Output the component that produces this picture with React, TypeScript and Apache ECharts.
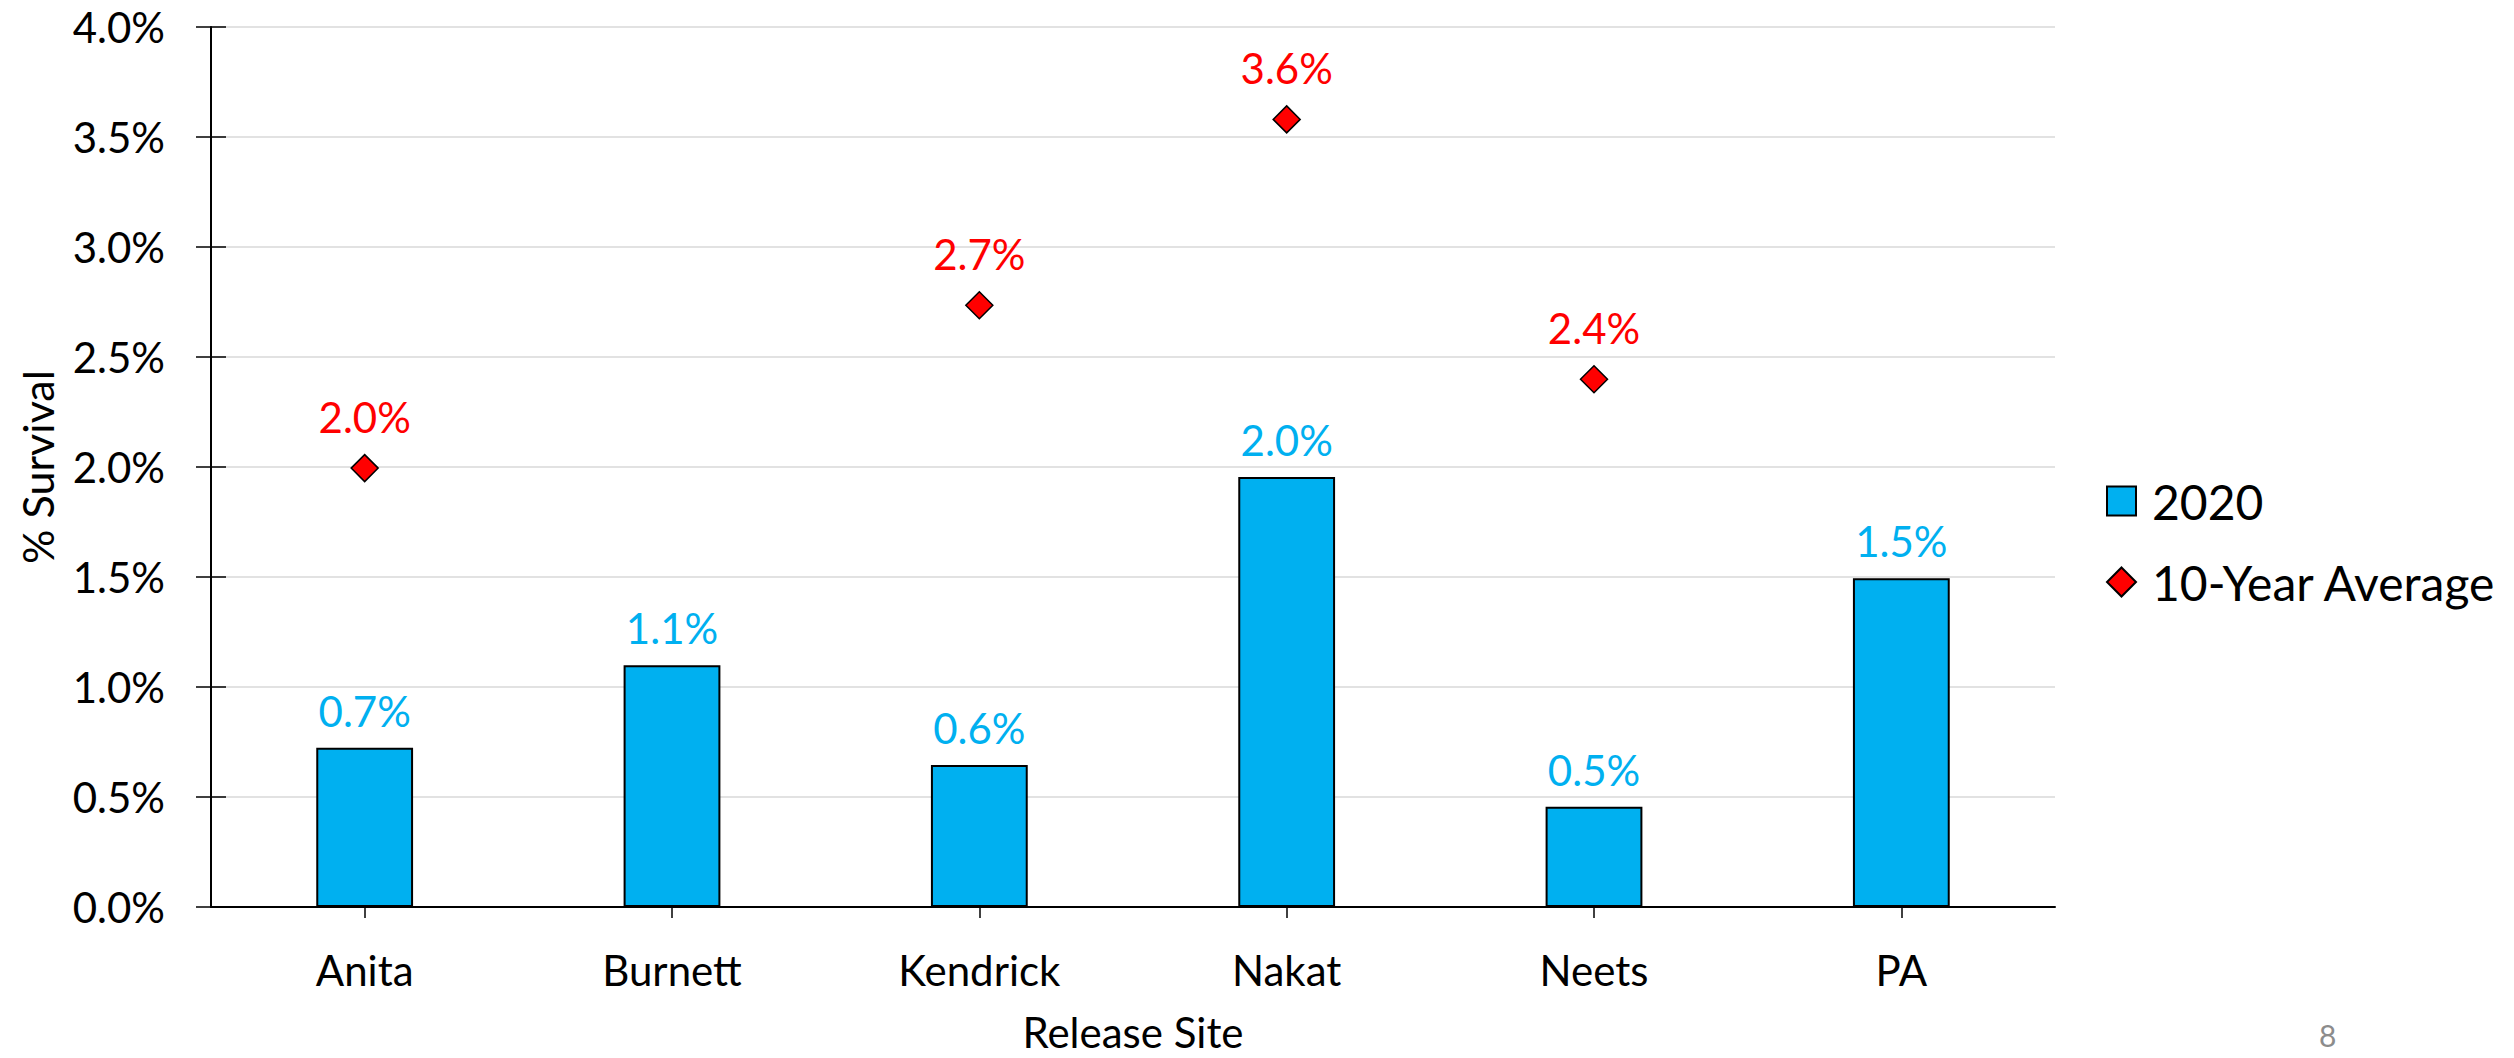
import React, { useEffect, useRef } from 'react';
import * as echarts from 'echarts';

const categories = ['Anita', 'Burnett', 'Kendrick', 'Nakat', 'Neets', 'PA'];
const survival2020 = [0.724, 1.099, 0.645, 1.955, 0.456, 1.494];
const tenYearAverage = [1.995, null, 2.735, 3.58, 2.399, null];
const yMin = 0;
const yMax = 4;
const yInterval = 0.5;
const seriesNames = ['2020', '10-Year Average'];
const axisTitles = { x: 'Release Site', y: '% Survival' };
const pageNumber = '8';

const FONT = 'Lato';
const fmt = (v: number) => (Math.round(v * 10) / 10).toFixed(1) + '%';

export default function App() {
  const ref = useRef<HTMLDivElement>(null);
  useEffect(() => {
    if (!ref.current) return;
    const chart = echarts.init(ref.current, null, { renderer: 'svg' });
    const yBase = {
      type: 'value',
      min: yMin,
      max: yMax,
      interval: yInterval,
      position: 'left',
    };
    chart.setOption({
      animation: false,
      backgroundColor: '#ffffff',
      textStyle: { fontFamily: FONT },
      grid: { left: 211, right: 459, top: 27, bottom: 147, containLabel: false },
      legend: {
        orient: 'vertical',
        left: 2106,
        top: 477,
        padding: 0,
        itemWidth: 29,
        itemHeight: 29,
        itemGap: 33,
        textStyle: { fontFamily: FONT, fontSize: 48, color: '#000', padding: [0, 0, 0, 11] },
        data: [
          { name: seriesNames[0], icon: 'rect' },
          { name: seriesNames[1], icon: 'diamond' },
        ],
      },
      xAxis: [
        {
          type: 'category',
          data: categories,
          position: 'bottom',
          boundaryGap: true,
          axisLine: { lineStyle: { color: '#000', width: 2 } },
          axisTick: { show: true, alignWithLabel: true, length: 11, lineStyle: { color: '#000', width: 1.5 } },
          axisLabel: { color: '#000', fontSize: 42, margin: 42, fontFamily: FONT },
          splitLine: { show: false },
          name: axisTitles.x,
          nameLocation: 'middle',
          nameGap: 104,
          nameTextStyle: { color: '#000', fontSize: 42, fontFamily: FONT },
        },
        {
          type: 'category',
          data: categories,
          position: 'bottom',
          boundaryGap: true,
          axisLine: { show: false },
          axisTick: { show: true, inside: true, alignWithLabel: true, length: 11, lineStyle: { color: '#000', width: 1.5 } },
          axisLabel: { show: false },
          splitLine: { show: false },
        },
      ],
      yAxis: [
        {
          ...yBase,
          axisLine: { show: true, lineStyle: { color: '#000', width: 2 } },
          axisTick: { show: true, length: 15, lineStyle: { color: '#000', width: 1.5 } },
          axisLabel: { color: '#000', fontSize: 42, margin: 46, fontFamily: FONT, formatter: (v: number) => v.toFixed(1) + '%' },
          splitLine: { show: true, lineStyle: { color: '#d9d9d9', width: 1.5 } },
          name: axisTitles.y,
          nameLocation: 'middle',
          nameGap: 152,
          nameRotate: 90,
          nameTextStyle: { color: '#000', fontSize: 43, fontFamily: FONT },
        },
        {
          ...yBase,
          axisLine: { show: false },
          axisTick: { show: true, inside: true, length: 15, lineStyle: { color: '#000', width: 1.5 } },
          axisLabel: { show: false },
          splitLine: { show: false },
        },
      ],
      series: [
        {
          name: seriesNames[0],
          type: 'bar',
          xAxisIndex: 0,
          yAxisIndex: 0,
          data: survival2020,
          barWidth: '31.5%',
          itemStyle: { color: '#00B0F0', borderColor: '#000', borderWidth: 2 },
          label: {
            show: true,
            position: 'top',
            distance: 16,
            color: '#00B0F0',
            fontSize: 42,
            fontFamily: FONT,
            formatter: (p: any) => fmt(p.value),
          },
          z: 2,
        },
        {
          name: seriesNames[1],
          type: 'scatter',
          xAxisIndex: 0,
          yAxisIndex: 0,
          data: tenYearAverage,
          symbol: 'diamond',
          symbolSize: 27,
          itemStyle: { color: '#FF0000', borderColor: '#000', borderWidth: 1.5, opacity: 1 },
          label: {
            show: true,
            position: 'top',
            distance: 16,
            color: '#FF0000',
            fontSize: 42,
            fontFamily: FONT,
            formatter: (p: any) => fmt(p.value),
          },
          z: 3,
        },
      ],
      graphic: [
        {
          type: 'text',
          left: 2319,
          top: 1020,
          style: { text: pageNumber, fill: '#8c8c8c', font: `30px ${FONT}` },
        },
      ],
    });
    return () => chart.dispose();
  }, []);
  return (
    <div
      ref={ref}
      style={{ position: 'fixed', left: 0, top: 0, width: 2514, height: 1058, background: '#fff' }}
    />
  );
}
